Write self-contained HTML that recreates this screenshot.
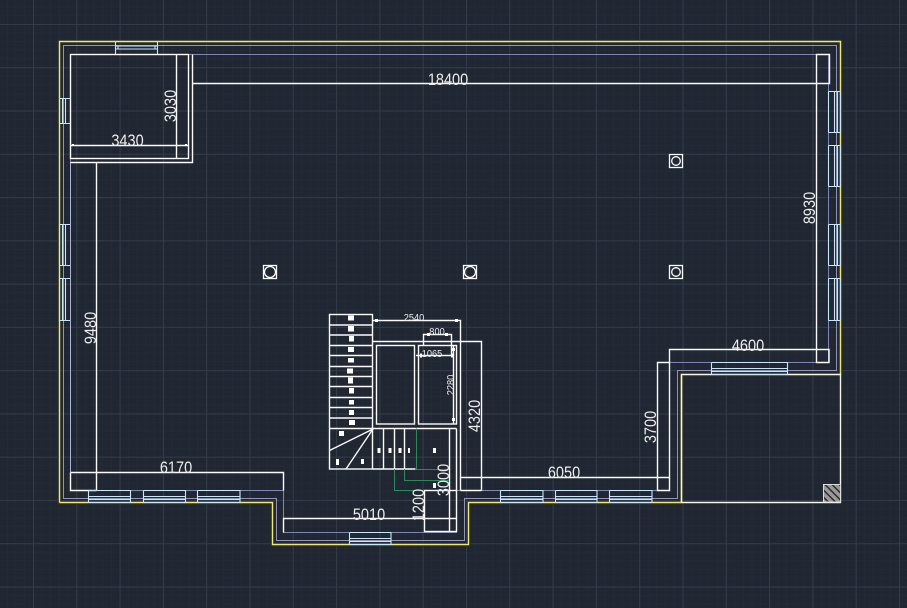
<!DOCTYPE html>
<html><head><meta charset="utf-8"><style>
html,body{margin:0;padding:0;background:#202733;width:907px;height:608px;overflow:hidden}
svg{display:block}
text{font-family:"Liberation Sans",sans-serif;fill:#ececec;text-anchor:middle}
</style></head><body>
<svg width="907" height="608" viewBox="0 0 907 608" xmlns="http://www.w3.org/2000/svg">
<defs>
<pattern id="mi" x="33" y="24" width="8.66" height="8.654" patternUnits="userSpaceOnUse">
<path d="M0 0V8.654M0 0H8.66" stroke="#262d39" stroke-width="1" fill="none"/>
</pattern>
<pattern id="ma" x="33" y="24" width="43.3" height="43.27" patternUnits="userSpaceOnUse">
<path d="M0.5 0V43.27M0 0.5H43.3" stroke="#343b48" stroke-width="1" fill="none"/>
</pattern>
<pattern id="ha" width="5" height="5" patternUnits="userSpaceOnUse" patternTransform="rotate(-45)">
<rect width="5" height="5" fill="#9a9a9a"/><rect width="1.5" height="5" fill="#2c2c2c"/>
</pattern>
</defs>
<rect width="907" height="608" fill="#202733"/>
<rect width="907" height="608" fill="url(#mi)"/>
<rect width="907" height="608" fill="url(#ma)"/>

<!-- halo -->
<path d="M59.5 502.5V41.5H840.5V374.5H681.5V502.5H468.5V544.5H272.5V502.5Z" fill="none" stroke="#2b2e26" stroke-width="4"/>
<!-- outer yellow -->
<path d="M59.5 502.5V41.5H840.5V374.5" fill="none" stroke="#ece87c" stroke-width="1.4"/>
<path d="M59.5 502.5H272.5V544.5H468.5V502.5H681.5V374.5" fill="none" stroke="#ece87c" stroke-width="1.4"/>
<path d="M681.5 502.5V374.5H840.5V502.5H681.5" fill="none" stroke="#f6f6ea" stroke-width="1.4"/>
<!-- blue inner offset -->
<path d="M63.5 498.5V45.5H836.5V370.5H677.5V498.5H464.5V540.5H276.5V498.5Z" fill="none" stroke="#8f94b8" stroke-width="1"/>
<path d="M70.5 490.5V54.5H828.5V362.5H669.5V490.5H456.5V532.5H283.5V490.5Z" fill="none" stroke="#7f86b4" stroke-width="1"/>
<path d="M70.5 162V472" fill="none" stroke="#a9b4d6" stroke-width="1"/>

<!-- white walls -->
<g fill="none" stroke="#fafafa" stroke-width="1.4">
<rect x="70.5" y="54.5" width="118" height="104"/>
<path d="M192.5 54.5V162.5H70.5"/>
<path d="M96.5 162.5V490.5M192.5 83.5H829.5V54.5H816.5V362.5H829V349.5H669.5V490.5H657.5V362.5H669.5"/>
<path d="M70.5 472.5H283.5V490.5M70.5 472.5V490.5H96.5"/>
<path d="M176.5 54.5V158.5M70.5 145.5H188.5"/>
<path d="M460.5 477.5H669.5M460.5 490.5H481.5"/>
<path d="M283.5 532.5V518.5H456.5"/>
<rect x="424.5" y="490.5" width="32" height="41"/>
<path d="M449.5 428.5V531.5M456.5 428.5V490.5"/>
<path d="M372.5 320.5H460.5V490.5M372.5 341.5H481.5V490.5"/>
<!-- stair -->
<rect x="329.5" y="314.5" width="43" height="154.5"/>
<path d="M329.5 325H372.5M329.5 335H372.5M329.5 345.5H372.5M329.5 355.5H372.5M329.5 366.5H372.5M329.5 376.5H372.5M329.5 386.5H372.5M329.5 397.5H372.5M329.5 407.5H372.5M329.5 418H372.5M329.5 428.5H456.5"/>
<path d="M372.5 469H415.5M383.5 428.5V469M394.5 428.5V469M404.5 428.5V469"/>
<path d="M373 429L329.5 450.5M373 429L346 469"/>
<rect x="376.5" y="345.5" width="38" height="78.5"/>
<rect x="418.5" y="345.5" width="38" height="78.5"/>
<path d="M423.5 345.5V334.5H451.5V355.5M416 355.5H453M453.5 346V424"/>
</g>
<!-- green -->
<g fill="none" stroke="#2c8a58" stroke-width="1">
<path d="M416.5 428.5V469.5H449M404.5 469V480.5H449M394.5 469V490.5H424"/>
</g>
<!-- stair dots -->
<g fill="#fff">
<rect x="348" y="315.5" width="6" height="5"/><rect x="348" y="326" width="6" height="5.5"/><rect x="349" y="336" width="5" height="5.5"/>
<rect x="348" y="347" width="6" height="5"/><rect x="348" y="358" width="6" height="4.5"/><rect x="347" y="368.5" width="6" height="5"/>
<rect x="348" y="377.5" width="5" height="6"/><rect x="349" y="388" width="5" height="5.5"/><rect x="349" y="400" width="5" height="4.5"/>
<rect x="349" y="410" width="5" height="5"/><rect x="349" y="420" width="6" height="5"/>
<rect x="339" y="431" width="5" height="5"/><rect x="336" y="459" width="3" height="6"/><rect x="361" y="459" width="3" height="5"/>
<rect x="377.5" y="448" width="3" height="5"/><rect x="388.5" y="448" width="3" height="5"/><rect x="398.5" y="448" width="3" height="5"/><rect x="408" y="448" width="2" height="5"/>
<rect x="433" y="448" width="3" height="5"/><rect x="433" y="483" width="3" height="5"/>
<rect x="420" y="353.5" width="2" height="4"/><rect x="451" y="353.5" width="3" height="4"/><rect x="427" y="333" width="3" height="3"/><rect x="445" y="333" width="3" height="3"/>
<rect x="375" y="319" width="3" height="3"/><rect x="455" y="319" width="3" height="3"/><rect x="452" y="348" width="3" height="3"/><rect x="452" y="418" width="3" height="3"/>
<rect x="72" y="144" width="2" height="2"/><rect x="185" y="144" width="2" height="2"/>
</g>
<!-- windows -->
<g fill="none" stroke="#c6e6fa" stroke-width="1.1">
<path d="M115.5 54V41.5M157.5 54V41.5M115.5 41.5H157.5M115.5 46H157.5M115.5 49H157.5M118 46V49M155 46V49"/>
<path d="M59.5 98.5H70M59.5 123.5H70M59.5 98.5V123.5M62.5 98.5V123.5M65.5 98.5V123.5"/>
<path d="M59.5 224.5H70M59.5 265.5H70M59.5 224.5V265.5M62.5 224.5V265.5M65.5 224.5V265.5"/>
<path d="M59.5 278.5H70M59.5 320.5H70M59.5 278.5V320.5M62.5 278.5V320.5M65.5 278.5V320.5"/>
<path d="M828.5 91.5H840M828.5 132.5H840M828.5 91.5V132.5M834.5 91.5V132.5M837.5 91.5V132.5M840.5 91.5V132.5"/>
<path d="M828.5 145.5H840M828.5 186.5H840M828.5 145.5V186.5M834.5 145.5V186.5M837.5 145.5V186.5M840.5 145.5V186.5"/>
<path d="M828.5 224.5H840M828.5 265.5H840M828.5 224.5V265.5M834.5 224.5V265.5M837.5 224.5V265.5M840.5 224.5V265.5"/>
<path d="M828.5 278.5H840M828.5 320.5H840M828.5 278.5V320.5M834.5 278.5V320.5M837.5 278.5V320.5M840.5 278.5V320.5"/>
<path d="M88.5 490.5H130.5V502.5M88.5 490.5V502.5M88.5 496.5H130.5M88.5 499.5H130.5M88.5 502.5H130.5"/>
<path d="M143.5 490.5H185.5V502.5M143.5 490.5V502.5M143.5 496.5H185.5M143.5 499.5H185.5M143.5 502.5H185.5"/>
<path d="M197.5 490.5H240V502.5M197.5 490.5V502.5M197.5 496.5H240M197.5 499.5H240M197.5 502.5H240"/>
<path d="M349.5 532.5H391V544.5M349.5 532.5V544.5M349.5 538.5H391M349.5 541.5H391M349.5 544.5H391"/>
<path d="M500.5 490.5H543V502.5M500.5 490.5V502.5M500.5 496.5H543M500.5 499.5H543M500.5 502.5H543"/>
<path d="M555.5 490.5H597V502.5M555.5 490.5V502.5M555.5 496.5H597M555.5 499.5H597M555.5 502.5H597"/>
<path d="M609.5 490.5H652V502.5M609.5 490.5V502.5M609.5 496.5H652M609.5 499.5H652M609.5 502.5H652"/>
<path d="M711.5 362.5H787.5V374.5M711.5 362.5V374.5M711.5 368.5H787.5M711.5 371.5H787.5M711.5 374.5H787.5"/>
</g>
<!-- hatch -->
<rect x="823.5" y="484.5" width="17" height="17.5" fill="url(#ha)" stroke="#ddd" stroke-width="1"/>
<!-- columns -->
<g fill="none" stroke="#fafafa" stroke-width="1.3">
<rect x="669.5" y="154.5" width="13" height="13"/><circle cx="676" cy="161" r="4.3"/>
<rect x="263.5" y="265.5" width="13" height="13"/><circle cx="270" cy="272" r="5.5"/>
<rect x="463.5" y="265.5" width="13" height="13"/><circle cx="470" cy="272" r="5.5"/>
<rect x="669.5" y="265.5" width="13" height="13"/><circle cx="676" cy="272" r="4.3"/>
</g>
<!-- labels -->
<g font-size="16.5">
<text transform="translate(448 85) scale(.88 1)">18400</text>
<text transform="translate(127.5 146) scale(.88 1)">3430</text>
<text transform="translate(176 106) rotate(-90) scale(.88 1)">3030</text>
<text transform="translate(96 328) rotate(-90) scale(.88 1)">9480</text>
<text transform="translate(176 473) scale(.88 1)">6170</text>
<text transform="translate(369 520) scale(.88 1)">5010</text>
<text transform="translate(564 478) scale(.88 1)">6050</text>
<text transform="translate(748 351) scale(.88 1)">4600</text>
<text transform="translate(656 427) rotate(-90) scale(.88 1)">3700</text>
<text transform="translate(815 208) rotate(-90) scale(.88 1)">8930</text>
<text transform="translate(480 416) rotate(-90) scale(.88 1)">4320</text>
<text transform="translate(449 480) rotate(-90) scale(.88 1)">3000</text>
<text transform="translate(424 505) rotate(-90) scale(.88 1)">1200</text>
</g>
<g font-size="10.5">
<text transform="translate(414 321) scale(.88 1)">2540</text>
<text transform="translate(437 335) scale(.88 1)">800</text>
<text transform="translate(432 357) scale(.88 1)">1065</text>
<text transform="translate(454 385) rotate(-90) scale(.88 1)">2280</text>
</g>
</svg>
</body></html>
